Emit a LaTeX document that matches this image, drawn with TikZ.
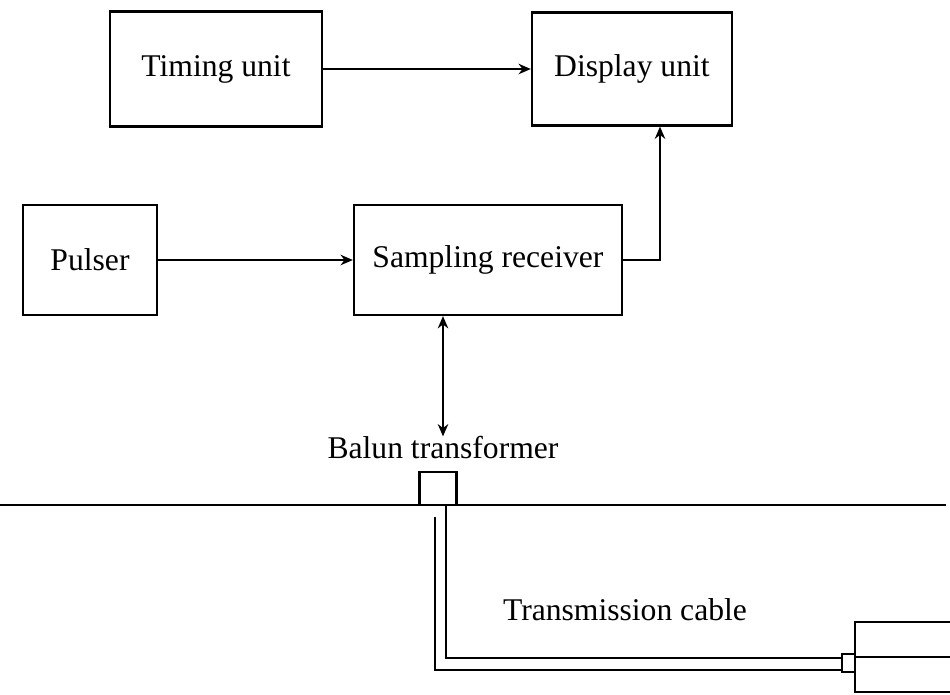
\documentclass[tikz,border=0pt]{standalone}
\usepackage{fontspec}
\setmainfont{Liberation Serif}
\usetikzlibrary{shapes,arrows.meta}
\tikzstyle{block} = [rectangle, draw, line width=1.3pt, inner sep=0pt,
    minimum height=2.2cm, font=\fontsize{18}{20}\selectfont]
\tikzstyle{textlabel} = [inner sep=0pt, font=\fontsize{18}{20}\selectfont]
\tikzstyle{line} = [draw, line width=0.7pt, -{Stealth[length=7pt,width=6pt]}]
\tikzstyle{cable} = [draw, line width=0.9pt]

\begin{document}
\begin{tikzpicture}[x=0.02cm, y=-0.02cm, node distance=2cm]
    \clip (0,0) rectangle (950,694);
    % Place nodes
    \node [block, minimum width=4.24cm, minimum height=2.3cm] (timing) at (216,69) {Timing unit};
    \node [block, right of=timing, node distance=8.32cm, minimum width=4cm,
        minimum height=2.26cm] (display) {Display unit};
    \node [block, minimum width=2.68cm] (pulser) at (90,260) {Pulser};
    \node [block, right of=pulser, node distance=7.96cm, minimum width=5.36cm] (sampling) {Sampling receiver};
    \node [textlabel] (balunlabel) at (443,448) {Balun transformer};
    \node [block, minimum width=0.74cm, minimum height=0.66cm] (balun) at (438,488.5) {};
    \node [textlabel] (cablelabel) at (625,610) {Transmission cable};
    \node [block, minimum width=0.26cm, minimum height=0.36cm, line width=0.8pt] (plug) at (848.5,663) {};
    \node [block, minimum width=2.4cm, minimum height=1.4cm] (load) at (915,657) {};
    % Ground line
    \coordinate (groundleft) at (0,505);
    \coordinate (groundright) at (946,505);
    \draw [line width=1.2pt] (groundleft) -- (groundright);
    % Cable
    \path [cable] (balun.south -| 446,0) -- (446,658) -- (plug.west |- 0,658);
    \path [cable] (435,517) -- (435,670) -- (plug.west |- 0,670);
    \path [cable, line width=1.4pt] (load.west) -- (load.east);
    % Signal paths
    \path [line] (timing) -- (display);
    \path [line] (pulser) -- (sampling);
    \path [line] (sampling.east) -| (display.south -| 660,0);
    \path [line, {Stealth[length=7pt,width=6pt]}-{Stealth[length=7pt,width=6pt]}]
        (sampling.south -| balunlabel.north) -- (balunlabel.north);
\end{tikzpicture}
\end{document}
